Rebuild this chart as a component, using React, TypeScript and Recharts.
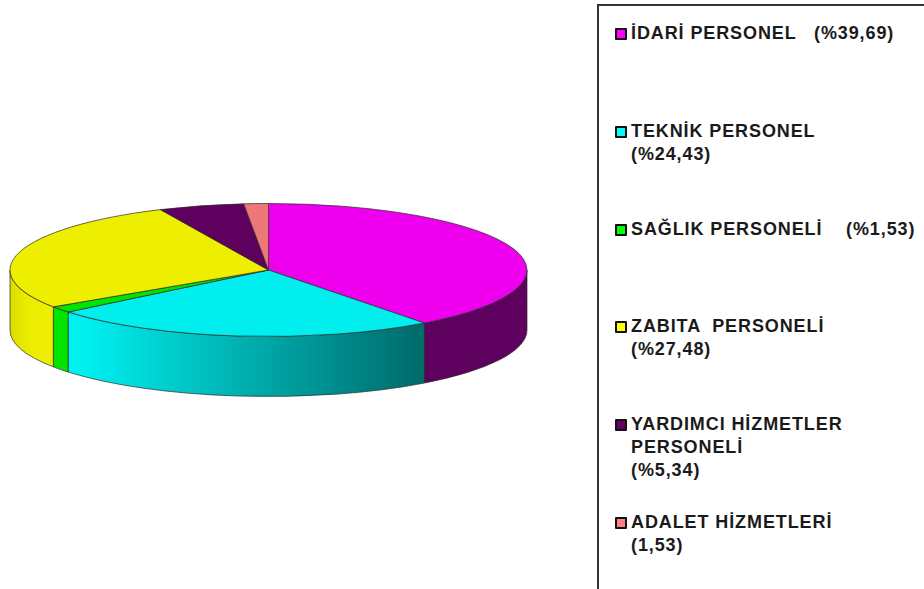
import { Legend, Pie, PieChart } from 'recharts';

const categories = [
  'İDARİ PERSONEL',
  'TEKNİK PERSONEL',
  'SAĞLIK PERSONELİ',
  'ZABITA PERSONELİ',
  'YARDIMCI HİZMETLER PERSONELİ',
  'ADALET HİZMETLERİ',
];
const values = [39.69, 24.43, 1.53, 27.48, 5.34, 1.53];
const topColors = ['#EE00EE', '#00EEEE', '#00E400', '#EEEE00', '#5E005E', '#EE7777'];
const sideColors = ['#5E005E', 'url(#tealWall)', '#00E400', 'url(#yellowWall)', '#5E005E', '#EE7777'];
const swatchColors = ['#FF00FF', '#00FFFF', '#00FF00', '#FFFF00', '#660066', '#FF8080'];
const legendLines = [
  ['İDARİ PERSONEL   (%39,69)'],
  ['TEKNİK PERSONEL', '(%24,43)'],
  ['SAĞLIK PERSONELİ    (%1,53)'],
  ['ZABITA  PERSONELİ', '(%27,48)'],
  ['YARDIMCI HİZMETLER', 'PERSONELİ', '(%5,34)'],
  ['ADALET HİZMETLERİ', '(1,53)'],
];

const rows = categories.map((name, i) => ({ name, value: values[i], fill: topColors[i] }));
const sideRows = categories.map((name, i) => ({ name, value: values[i], fill: sideColors[i] }));

const CX = 268.5;
const CY = 270;
const RX = 258.5;
const RY = 66.5;
const DEPTH = 60;
const OUTLINE = '#2a2a2a';

// recharts angle (counter clockwise from 3 o'clock) to a point on the flattened rim
const rim = (angle: number, dy = 0) => {
  const rad = (angle * Math.PI) / 180;
  return `${CX + RX * Math.cos(rad)} ${CY - RY * Math.sin(rad) + dy}`;
};

function TopSlice(props: any) {
  const { startAngle, endAngle, fill } = props;
  const large = startAngle - endAngle > 180 ? 1 : 0;
  const d = `M ${CX} ${CY} L ${rim(startAngle)} A ${RX} ${RY} 0 ${large} 1 ${rim(endAngle)} Z`;
  return <path d={d} fill={fill} stroke={OUTLINE} strokeWidth={0.7} strokeLinejoin="round" />;
}

// only the front half of the rim shows a wall: -180 to 0 in recharts angles
function SideSlice(props: any) {
  const { startAngle, endAngle, fill } = props;
  const from = Math.min(startAngle, 0);
  const to = Math.max(endAngle, -180);
  if (from <= to) return <g />;
  const d = [
    `M ${rim(from)}`,
    `A ${RX} ${RY} 0 0 1 ${rim(to)}`,
    `L ${rim(to, DEPTH)}`,
    `A ${RX} ${RY} 0 0 0 ${rim(from, DEPTH)}`,
    'Z',
  ].join(' ');
  return <path d={d} fill={fill} stroke={OUTLINE} strokeWidth={0.7} strokeLinejoin="round" />;
}

function LegendBox(props: any) {
  // the wall pie also lands in the payload, keep one entry per category
  const items = categories.filter((name) => (props.payload ?? []).some((p: any) => p.value === name));
  return (
    <div
      style={{
        boxSizing: 'border-box',
        width: 327,
        height: 585,
        borderLeft: '2px solid #333',
        borderTop: '2px solid #333',
        paddingTop: 16,
        fontFamily: '"Liberation Sans", Arial, sans-serif',
        fontWeight: 700,
        fontSize: 18,
        letterSpacing: 0.9,
        lineHeight: '23px',
        color: '#1a1a1a',
        textAlign: 'left',
      }}
    >
      {items.map((name, i) => (
        <div key={name} style={{ height: 97.8, paddingLeft: 32, position: 'relative' }}>
          <span
            style={{
              position: 'absolute',
              left: 16,
              top: 6,
              boxSizing: 'border-box',
              width: 12,
              height: 12,
              border: '2px solid #111',
              borderRadius: 1,
              background: swatchColors[i],
            }}
          />
          {legendLines[i].map((line) => (
            <div key={line} style={{ whiteSpace: 'pre' }}>
              {line}
            </div>
          ))}
        </div>
      ))}
    </div>
  );
}

export default function App() {
  return (
    <div style={{ position: 'absolute', left: 0, top: 0, width: 924, height: 589, overflow: 'hidden', background: '#fff' }}>
      <PieChart width={924} height={589} margin={{ top: 0, right: 0, bottom: 0, left: 0 }}>
        <defs>
          <linearGradient id="tealWall" x1="0" y1="0" x2="1" y2="0">
            <stop offset="0%" stopColor="#00F2F2" />
            <stop offset="6%" stopColor="#00EEEE" />
            <stop offset="60%" stopColor="#00A0A0" />
            <stop offset="100%" stopColor="#006A6A" />
          </linearGradient>
          <linearGradient id="yellowWall" x1="0" y1="0" x2="1" y2="0">
            <stop offset="0%" stopColor="#DCDC00" />
            <stop offset="40%" stopColor="#ECEC00" />
            <stop offset="100%" stopColor="#EEEE00" />
          </linearGradient>
        </defs>
        <Pie
          data={sideRows}
          dataKey="value"
          nameKey="name"
          cx={CX}
          cy={CY}
          outerRadius={RX}
          startAngle={90}
          endAngle={-270}
          legendType="none"
          shape={SideSlice}
          isAnimationActive={false}
        />
        <Pie
          data={rows}
          dataKey="value"
          nameKey="name"
          cx={CX}
          cy={CY}
          outerRadius={RX}
          startAngle={90}
          endAngle={-270}
          shape={TopSlice}
          isAnimationActive={false}
        />
        <Legend
          content={LegendBox}
          layout="vertical"
          wrapperStyle={{ left: 597, top: 4, width: 327, height: 585 }}
        />
      </PieChart>
    </div>
  );
}
